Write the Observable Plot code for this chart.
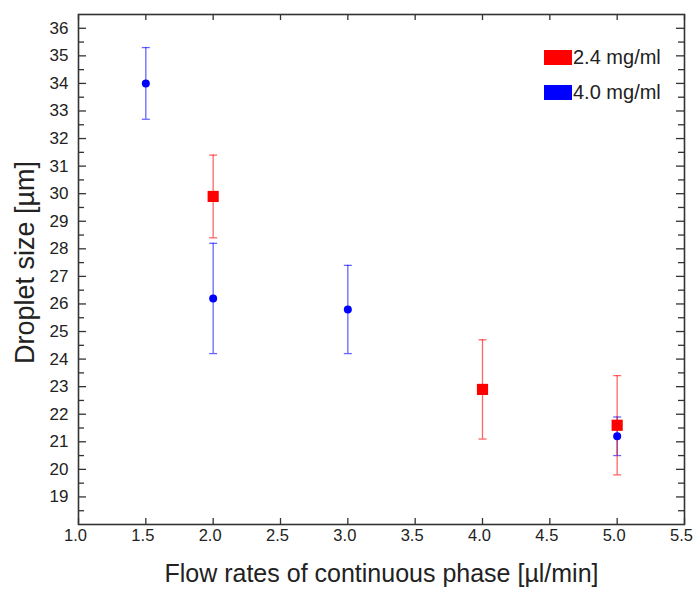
<!DOCTYPE html>
<html><head><meta charset="utf-8">
<script src="https://cdn.jsdelivr.net/npm/d3@7"></script>
<script src="https://cdn.jsdelivr.net/npm/@observablehq/plot@0.6"></script>
<style>
body{margin:0;background:#fff;font-family:"Liberation Sans",Arial,sans-serif;}
#wrap{position:relative;width:693px;height:589px;}
.lg{position:absolute;display:flex;align-items:center;font-size:20px;color:#222;line-height:1;}
.lg span.sw{display:inline-block;width:28px;height:15px;margin-right:1px;}
</style></head><body><div id="wrap"></div>
<script>
const seriesNames = ["2.4 mg/ml", "4.0 mg/ml"];
const seriesColors = ["#ff0000", "#0000ff"];
// 2.4 mg/ml
const flowRed = [2.0, 4.0, 5.0];
const sizeRed = [29.9, 22.9, 21.6];
const loRed = [28.4, 21.1, 19.8];
const hiRed = [31.4, 24.7, 23.4];
// 4.0 mg/ml
const flowBlue = [1.5, 2.0, 3.0, 5.0];
const sizeBlue = [34.0, 26.2, 25.8, 21.2];
const loBlue = [32.7, 24.2, 24.2, 20.5];
const hiBlue = [35.3, 28.2, 27.4, 21.9];
// ticks
const xTicks = [1.0, 1.5, 2.0, 2.5, 3.0, 3.5, 4.0, 4.5, 5.0, 5.5];
const yTicks = [19,20,21,22,23,24,25,26,27,28,29,30,31,32,33,34,35,36];
const yMinor = [18.5,19.5,20.5,21.5,22.5,23.5,24.5,25.5,26.5,27.5,28.5,29.5,30.5,31.5,32.5,33.5,34.5,35.5];
const xLabel = "Flow rates of continuous phase [µl/min]";
const yLabel = "Droplet size [µm]";

const red = flowRed.map((x, i) => ({x, y: sizeRed[i], lo: loRed[i], hi: hiRed[i]}));
const blue = flowBlue.map((x, i) => ({x, y: sizeBlue[i], lo: loBlue[i], hi: hiBlue[i]}));

const W = 693, H = 589, mL = 78, mR = 9, mT = 14, mB = 65;
const pw = W - mL - mR, ph = H - mT - mB;
const capSymbol = {draw(ctx, size) { const w = Math.sqrt(size / Math.PI); ctx.moveTo(-w, 0); ctx.lineTo(w, 0); }};
const axisColor = "#333";

const chart = Plot.plot({
  width: W, height: H,
  marginLeft: mL, marginRight: mR, marginTop: mT, marginBottom: mB,
  style: {fontFamily: "'Liberation Sans', Arial, sans-serif", background: "#fff", color: "#222"},
  x: {domain: [1.0, 5.5]},
  y: {domain: [18, 36.5]},
  marks: [
    Plot.axisX({ticks: xTicks, tickFormat: d3.format(".1f"), tickSize: 0, tickPadding: 5, dx: -3, fontSize: 16.5, label: null}),
    Plot.axisY({ticks: yTicks, tickSize: 0, tickPadding: 10, fontSize: 17, label: null}),
    // inward ticks
    Plot.tickY(yTicks, {y: d => d, insetRight: pw - 8, stroke: axisColor, strokeWidth: 1.3}),
    Plot.tickY(yMinor, {y: d => d, insetRight: pw - 6, stroke: axisColor, strokeWidth: 1.3}),
    Plot.tickY(yTicks, {y: d => d, insetLeft: pw - 8, stroke: axisColor, strokeWidth: 1.3}),
    Plot.tickY(yMinor, {y: d => d, insetLeft: pw - 6, stroke: axisColor, strokeWidth: 1.3}),
    Plot.tickX(xTicks, {x: d => d, insetTop: ph - 6, stroke: axisColor, strokeWidth: 1.3}),
    Plot.tickX(xTicks, {x: d => d, insetBottom: ph - 6, stroke: axisColor, strokeWidth: 1.3}),
    Plot.frame({stroke: axisColor, strokeWidth: 1.6}),
    // error bars
    Plot.ruleX(blue, {x: "x", y1: "lo", y2: "hi", stroke: seriesColors[1], strokeOpacity: 0.6, strokeWidth: 1.3}),
    Plot.dot(blue, {x: "x", y: "lo", symbol: capSymbol, r: 4, stroke: seriesColors[1], strokeOpacity: 0.6, strokeWidth: 1.3}),
    Plot.dot(blue, {x: "x", y: "hi", symbol: capSymbol, r: 4, stroke: seriesColors[1], strokeOpacity: 0.6, strokeWidth: 1.3}),
    Plot.ruleX(red, {x: "x", y1: "lo", y2: "hi", stroke: seriesColors[0], strokeOpacity: 0.6, strokeWidth: 1.3}),
    Plot.dot(red, {x: "x", y: "lo", symbol: capSymbol, r: 4, stroke: seriesColors[0], strokeOpacity: 0.6, strokeWidth: 1.3}),
    Plot.dot(red, {x: "x", y: "hi", symbol: capSymbol, r: 4, stroke: seriesColors[0], strokeOpacity: 0.6, strokeWidth: 1.3}),
    // points
    Plot.dot(blue, {x: "x", y: "y", r: 4, fill: seriesColors[1], stroke: "none"}),
    Plot.dot(red, {x: "x", y: "y", r: 6.3, symbol: "square", fill: seriesColors[0], stroke: "none"}),
    // axis titles
    Plot.text([xLabel], {frameAnchor: "bottom", dy: 49, textAnchor: "middle", lineAnchor: "middle", fontSize: 25, fill: "#222"}),
    Plot.text([yLabel], {frameAnchor: "left", dx: -53, dy: -7, rotate: -90, textAnchor: "middle", lineAnchor: "middle", fontSize: 27, fill: "#222"})
  ]
});

const wrap = document.getElementById("wrap");
wrap.appendChild(chart);
seriesNames.forEach((name, i) => {
  const d = document.createElement("div");
  d.className = "lg";
  d.style.left = "544px";
  d.style.top = (47 + i * 35) + "px";
  const sw = document.createElement("span");
  sw.className = "sw";
  sw.style.background = seriesColors[i];
  d.appendChild(sw);
  d.appendChild(document.createTextNode(name));
  wrap.appendChild(d);
});
</script></body></html>
